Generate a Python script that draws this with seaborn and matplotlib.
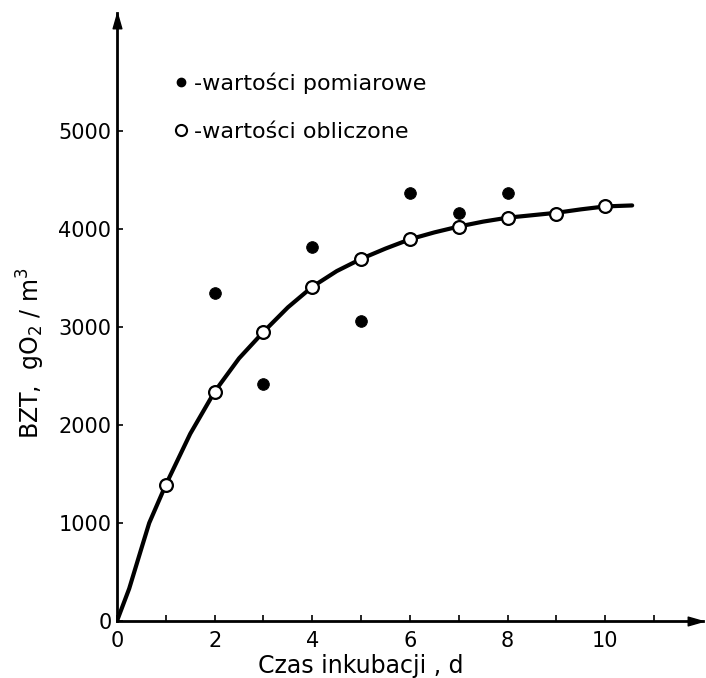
import numpy as np
import pandas as pd
import matplotlib
matplotlib.use("Agg")
import matplotlib.pyplot as plt
import seaborn as sns

sns.set_style("ticks")
plt.rcParams['font.family'] = ['DejaVu Sans']
plt.rcParams['mathtext.fontset'] = 'dejavusans'
plt.rcParams.update({'text.color': 'black', 'axes.labelcolor': 'black',
                     'xtick.color': 'black', 'ytick.color': 'black',
                     'axes.edgecolor': 'black'})

# -----------------------------
# data
# -----------------------------
days_calc = [1, 2, 3, 4, 5, 6, 7, 8, 9, 10]
bzt_calc = [1390, 2340, 2950, 3410, 3695, 3895, 4025, 4115, 4155, 4230]

days_meas = [2, 3, 4, 5, 6, 7, 8]
bzt_meas = [3345, 2415, 3815, 3060, 4370, 4160, 4370]

# fitted curve, read at several points
curve_days = [0, 0.25, 0.5, 0.66, 1, 1.5, 2, 2.5, 3, 3.5, 4, 4.5, 5, 5.5,
              6, 6.5, 7, 7.5, 8, 8.5, 9, 9.5, 10, 10.55]
curve_bzt = [0, 330, 740, 1000, 1390, 1910, 2340, 2680, 2950, 3200, 3410,
             3570, 3695, 3800, 3895, 3965, 4025, 4075, 4115, 4140, 4165,
             4200, 4230, 4240]

x_ticks = list(range(12))
x_tick_labels = ['0', '', '2', '', '4', '', '6', '', '8', '', '10', '']
y_ticks = [0, 1000, 2000, 3000, 4000, 5000]
y_tick_labels = ['0', '1000', '2000', '3000', '4000', '5000']

curve = pd.DataFrame({'t': curve_days, 'bzt': curve_bzt})
calc = pd.DataFrame({'t': days_calc, 'bzt': bzt_calc})
meas = pd.DataFrame({'t': days_meas, 'bzt': bzt_meas})

# -----------------------------
# plot
# -----------------------------
fig = plt.figure(figsize=(7.06, 6.78), dpi=100)
ax = fig.add_axes([0.1657, 0.0841, 0.830, 0.8968])

sns.lineplot(data=curve, x='t', y='bzt', ax=ax, color='black', lw=3,
             sort=False, estimator=None, zorder=2)
sns.scatterplot(data=meas, x='t', y='bzt', ax=ax, color='black', s=70,
                edgecolor='black', zorder=3)
sns.scatterplot(data=calc, x='t', y='bzt', ax=ax, color='white', s=85,
                edgecolor='black', linewidth=1.6, zorder=4)

ax.set_xlim(0, 12)
ax.set_ylim(0, 6204)
sns.despine(ax=ax)
for side in ['left', 'bottom']:
    ax.spines[side].set_linewidth(2)

ax.set_xticks(x_ticks)
ax.set_xticklabels(x_tick_labels, fontsize=15)
ax.set_yticks(y_ticks)
ax.set_yticklabels(y_tick_labels, fontsize=15)
ax.tick_params(direction='in', length=4, width=1.2, pad=4)
ax.tick_params(axis='x', pad=7)

ax.set_xlabel("Czas inkubacji , d", fontsize=17)
ax.xaxis.set_label_coords(5 / 12, -0.054)
ax.set_ylabel("BZT,  gO$_2$ / m$^3$", fontsize=17)
ax.yaxis.set_label_coords(-0.12, 0.44)

# arrow heads on the axes
head = [(0, 0), (-3.5, 1), (-3.5, -1), (0, 0)]
ax.plot(1, 0, marker=head, markersize=22, color='black',
        transform=ax.transAxes, clip_on=False)
head_up = [(0, 0), (-1, -3.5), (1, -3.5), (0, 0)]
ax.plot(0, 1, marker=head_up, markersize=22, color='black',
        transform=ax.transAxes, clip_on=False)

# legend
h1 = plt.Line2D([], [], ls='', marker='o', ms=6, color='black')
h2 = plt.Line2D([], [], ls='', marker='o', ms=8, mfc='white',
                mec='black', mew=1.5)
ax.legend([h1, h2], ["-wartości pomiarowe", "-wartości obliczone"],
          loc='upper left', bbox_to_anchor=(0.063, 0.935), frameon=False,
          fontsize=16, handlelength=0.6, handletextpad=0.3,
          labelspacing=1.25)

plt.savefig("out.png", dpi=100)
